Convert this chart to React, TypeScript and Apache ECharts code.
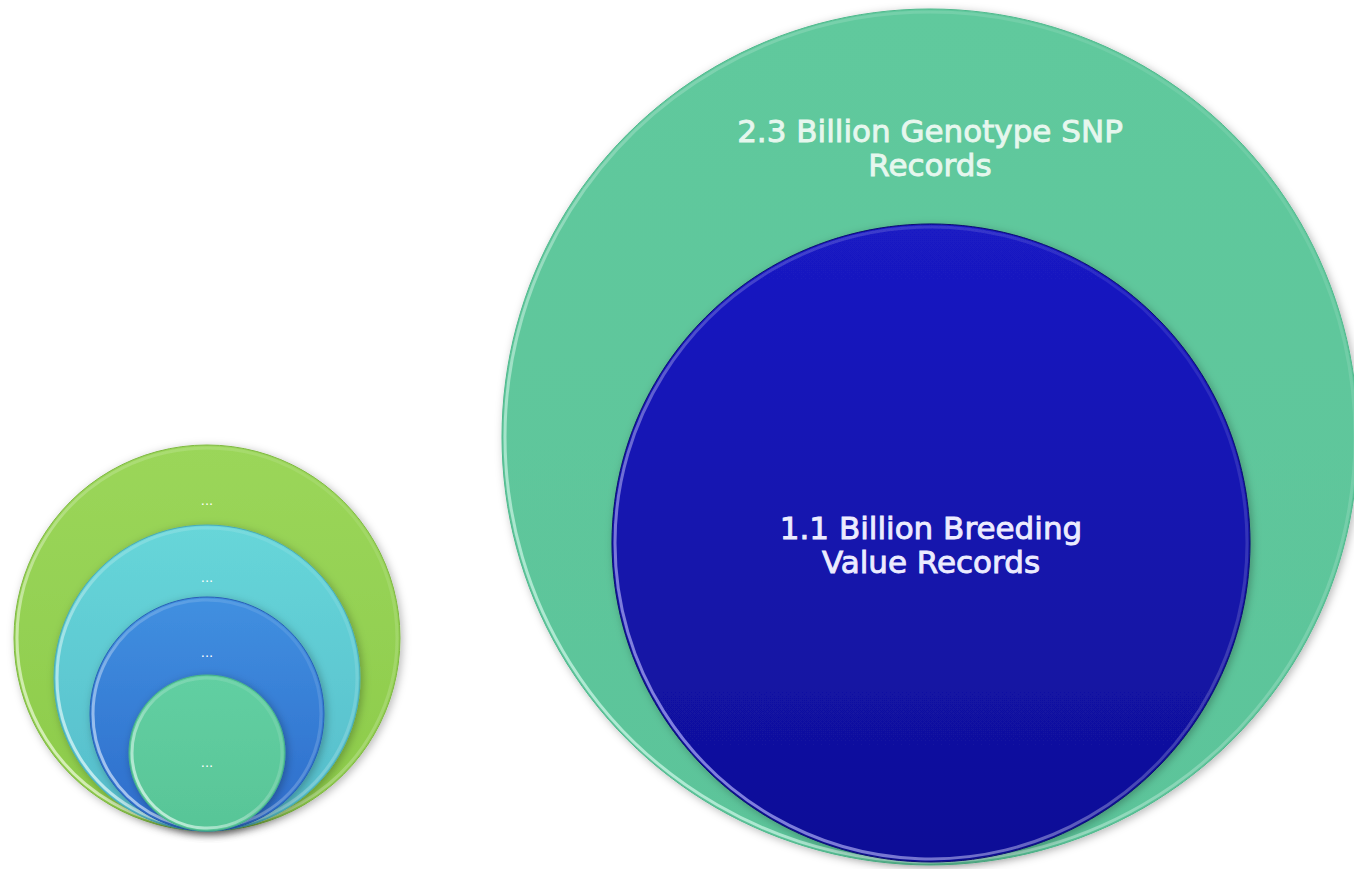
import React, { useEffect, useRef } from "react";
import * as echarts from "echarts";

// Diagram content
const circleNames = [
  "Level 1",
  "Level 2",
  "Level 3",
  "Level 4",
  "Genotype SNP records",
  "Breeding value records",
];
const circleLabels = [
  "...",
  "...",
  "...",
  "...",
  "2.3 Billion Genotype SNP\nRecords",
  "1.1 Billion Breeding\nValue Records",
];
// centres and radii in page pixels, measured on the reference
const centerX = [207, 207, 207, 207, 930, 931];
const centerY = [638, 678, 714, 753, 437, 543];
const radius = [193, 153, 117, 78, 428, 319];
const labelY = [500, 577, 652, 762, 148, 545];

// styles (not data)
const fillTop = ["#9bd65a", "#67d6d9", "#4190e0", "#62cfa2", "#60c99d", "#1a1ac4"];
const fillBottom = ["#8ccb4a", "#55bccb", "#2d6ccb", "#58c597", "#5cc49a", "#0f0f96"];
const edgeColor = ["#7fb842", "#49aab8", "#2a5fb5", "#46b086", "#4fb88c", "#0a0a70"];
const rimColor = ["#f4ffe0", "#eaffff", "#cfe4ff", "#e6fff4", "#c9fbe8", "#9c9cff"];
const labelColor = ["#ffffff", "#ffffff", "#ffffff", "#ffffff", "#e6f7ee", "#ececff"];
const labelSize = [13, 13, 13, 13, 31, 31];
const labelLineHeight = [16, 16, 16, 16, 34, 34];
const labelBorder = [0, 0, 0, 0, 0.9, 0.9];

export default function App() {
  const ref = useRef<HTMLDivElement>(null);

  useEffect(() => {
    if (!ref.current) return;
    const chart = echarts.init(ref.current, undefined, { renderer: "svg" });

    const data = circleNames.map((name, i) => ({
      name,
      value: [centerX[i], centerY[i], radius[i], labelY[i]],
    }));

    const option: any = {
      animation: false,
      backgroundColor: "#ffffff",
      grid: { left: 0, right: 0, top: 0, bottom: 0 },
      xAxis: { type: "value", min: 0, max: 1354, show: false },
      yAxis: { type: "value", min: 0, max: 869, inverse: true, show: false },
      series: [
        {
          type: "custom",
          coordinateSystem: "cartesian2d",
          clip: false,
          data,
          renderItem: (params: any, api: any) => {
            const i = params.dataIndex;
            const c = api.coord([api.value(0), api.value(1)]);
            const r = api.size([api.value(2), 0])[0];
            const ly = api.coord([0, api.value(3)])[1];
            return {
              type: "group",
              children: [
                {
                  type: "circle",
                  shape: { cx: c[0], cy: c[1], r },
                  style: {
                    fill: new echarts.graphic.LinearGradient(0, 0, 0, 1, [
                      { offset: 0, color: fillTop[i] },
                      { offset: 1, color: fillBottom[i] },
                    ]),
                    stroke: edgeColor[i],
                    lineWidth: 1,
                    shadowBlur: 8,
                    shadowOffsetX: 2,
                    shadowOffsetY: 2,
                    shadowColor: "rgba(0,0,0,0.28)",
                  },
                },
                {
                  type: "circle",
                  shape: { cx: c[0], cy: c[1], r: r - 3 },
                  silent: true,
                  style: {
                    fill: "none",
                    lineWidth: 3,
                    stroke: new echarts.graphic.LinearGradient(1, 0, 0, 1, [
                      { offset: 0, color: "rgba(255,255,255,0.05)" },
                      { offset: 0.5, color: "rgba(255,255,255,0.25)" },
                      { offset: 1, color: rimColor[i] },
                    ]),
                    opacity: 0.85,
                  },
                },
                {
                  type: "text",
                  silent: true,
                  style: {
                    text: circleLabels[i],
                    x: c[0],
                    y: ly,
                    align: "center",
                    verticalAlign: "middle",
                    fill: labelColor[i],
                    fontFamily: "DejaVu Sans",
                    fontSize: labelSize[i],
                    lineHeight: labelLineHeight[i],
                    stroke: labelColor[i],
                    lineWidth: labelBorder[i],
                  },
                },
              ],
            };
          },
        },
      ],
    };

    chart.setOption(option);
    return () => chart.dispose();
  }, []);

  return (
    <div
      ref={ref}
      style={{ position: "fixed", left: 0, top: 0, width: 1354, height: 869, background: "#fff" }}
    />
  );
}
